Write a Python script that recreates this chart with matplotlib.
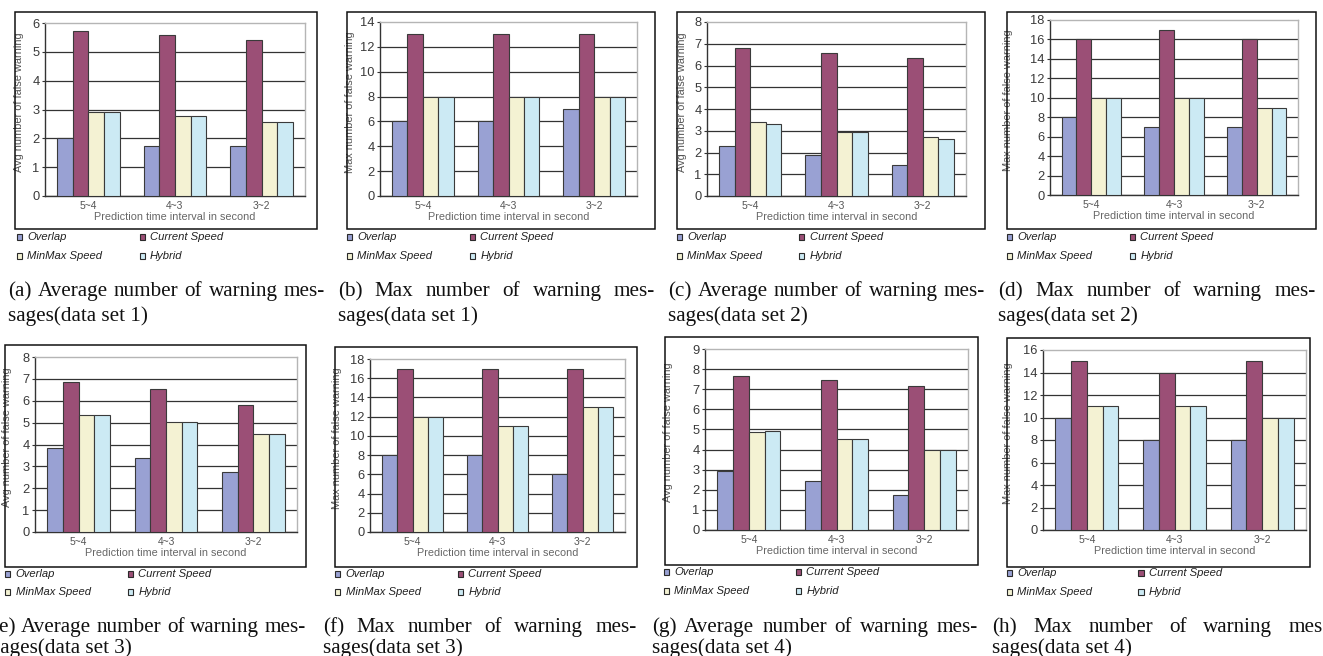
import matplotlib
matplotlib.use("Agg")
import matplotlib.pyplot as plt
from matplotlib.patches import Rectangle
import numpy as np

# ---------------- data ----------------
categories = ["5~4", "4~3", "3~2"]
series_names = ["Overlap", "Current Speed", "MinMax Speed", "Hybrid"]

avg_label = "Avg number of false warning"
max_label = "Max number of false warning"

# (a) data set 1, average
a_overlap = [2.0, 1.75, 1.75]
a_current = [5.72, 5.6, 5.4]
a_minmax = [2.9, 2.76, 2.55]
a_hybrid = [2.9, 2.76, 2.55]
# (b) data set 1, max
b_overlap = [6, 6, 7]
b_current = [13, 13, 13]
b_minmax = [8, 8, 8]
b_hybrid = [8, 8, 8]
# (c) data set 2, average
c_overlap = [2.31, 1.88, 1.42]
c_current = [6.79, 6.57, 6.35]
c_minmax = [3.41, 2.92, 2.72]
c_hybrid = [3.29, 2.92, 2.6]
# (d) data set 2, max
d_overlap = [8, 7, 7]
d_current = [16, 17, 16]
d_minmax = [10, 10, 9]
d_hybrid = [10, 10, 9]
# (e) data set 3, average
e_overlap = [3.83, 3.40, 2.73]
e_current = [6.85, 6.52, 5.79]
e_minmax = [5.33, 5.05, 4.49]
e_hybrid = [5.33, 5.05, 4.49]
# (f) data set 3, max
f_overlap = [8, 8, 6]
f_current = [17, 17, 17]
f_minmax = [12, 11, 13]
f_hybrid = [12, 11, 13]
# (g) data set 4, average
g_overlap = [2.93, 2.43, 1.74]
g_current = [7.67, 7.47, 7.14]
g_minmax = [4.87, 4.52, 3.97]
g_hybrid = [4.92, 4.52, 3.97]
# (h) data set 4, max
h_overlap = [10, 8, 8]
h_current = [15, 14, 15]
h_minmax = [11, 11, 10]
h_hybrid = [11, 11, 10]

captions1 = [
    "(a) Average number of warning mes-",
    "(b) Max number of warning mes-",
    "(c) Average number of warning mes-",
    "(d) Max number of warning mes-",
    "(e) Average number of warning mes-",
    "(f) Max number of warning mes-",
    "(g) Average number of warning mes-",
    "(h) Max number of warning mes-",
]
captions2 = [
    "sages(data set 1)", "sages(data set 1)",
    "sages(data set 2)", "sages(data set 2)",
    "sages(data set 3)", "sages(data set 3)",
    "sages(data set 4)", "sages(data set 4)",
]

# ---------------- style ----------------
colors = ["#99a1d3", "#9b4f76", "#f4f2d3", "#cceaf4"]
edge = "#3a3a3a"
W, H = 1323, 656

fig = plt.figure(figsize=(W / 100, H / 100), dpi=100)
fig.patch.set_facecolor("white")


def fx(x):
    return x / W


def fy(y):
    return 1 - y / H


# layout (pixels): box, axes, ylabel x, legend (col1 x, col2 x, row1 y, row2 y), caption (x0, x1, base1, base2)
panels = [
    dict(vals=(a_overlap, a_current, a_minmax, a_hybrid), ymax=6, step=1, ylabel=avg_label,
         box=(15, 12, 317, 229), ax=(45, 23, 305, 196), ylx=24,
         leg=(16.5, 139.5, 237, 256), cap=(8, 325, 296, 321)),
    dict(vals=(b_overlap, b_current, b_minmax, b_hybrid), ymax=14, step=2, ylabel=max_label,
         box=(347, 12, 655, 229), ax=(380, 22, 637, 196), ylx=355,
         leg=(346.7, 470, 237, 256), cap=(338, 655, 296, 321)),
    dict(vals=(c_overlap, c_current, c_minmax, c_hybrid), ymax=8, step=1, ylabel=avg_label,
         box=(677, 12, 985, 229), ax=(707, 22, 966, 196), ylx=687,
         leg=(676.7, 799.3, 237, 256), cap=(668, 985, 296, 321)),
    dict(vals=(d_overlap, d_current, d_minmax, d_hybrid), ymax=18, step=2, ylabel=max_label,
         box=(1007, 12, 1316, 229), ax=(1050, 20, 1298, 195), ylx=1013,
         leg=(1006.7, 1130, 237, 256), cap=(998, 1316, 296, 321)),
    dict(vals=(e_overlap, e_current, e_minmax, e_hybrid), ymax=8, step=1, ylabel=avg_label,
         box=(5, 345, 306, 567), ax=(35, 357, 297, 532), ylx=12,
         leg=(5, 127.7, 574, 592), cap=(-8, 306, 632, 653)),
    dict(vals=(f_overlap, f_current, f_minmax, f_hybrid), ymax=18, step=2, ylabel=max_label,
         box=(335, 347, 637, 567), ax=(370, 359, 625, 532), ylx=342,
         leg=(335, 457.7, 574, 592), cap=(323, 637, 632, 653)),
    dict(vals=(g_overlap, g_current, g_minmax, g_hybrid), ymax=9, step=1, ylabel=avg_label,
         box=(665, 337, 978, 565), ax=(705, 349, 968, 530), ylx=673,
         leg=(664, 796, 572, 591), cap=(652, 978, 632, 653)),
    dict(vals=(h_overlap, h_current, h_minmax, h_hybrid), ymax=16, step=2, ylabel=max_label,
         box=(1007, 338, 1310, 567), ax=(1043, 350, 1306, 530), ylx=1013,
         leg=(1006.7, 1138.3, 573, 592), cap=(992, 1330, 632, 653)),
]

renderer = fig.canvas.get_renderer()
cap_fs = 15.2


def justify_line(text, x0, x1, ybase):
    words = text.split(" ")
    objs = [fig.text(0, 0, w, fontsize=cap_fs, family="Liberation Serif",
                     va="baseline", ha="left", color="#111111") for w in words]
    widths = [o.get_window_extent(renderer).width for o in objs]
    gap = (x1 - x0 - sum(widths)) / (len(words) - 1)
    gap = max(gap, 4.0)
    x = x0
    for o, wd in zip(objs, widths):
        o.set_position((fx(x), fy(ybase)))
        x += wd + gap


x = np.arange(len(categories))
bw = 0.18

for i, p in enumerate(panels):
    bl, bt, br, bb = p["box"]
    fig.add_artist(Rectangle((fx(bl), fy(bb)), (br - bl) / W, (bb - bt) / H,
                             transform=fig.transFigure, facecolor="none",
                             edgecolor="#111111", linewidth=1.1))
    al, at, ar, ab = p["ax"]
    ax = fig.add_axes([fx(al), fy(ab), (ar - al) / W, (ab - at) / H])
    for k, vals in enumerate(p["vals"]):
        ax.bar(x + (k - 1.5) * bw, vals, bw, color=colors[k], edgecolor=edge,
               linewidth=0.8, zorder=3, label=series_names[k])
    ax.set_xlim(-0.5, len(categories) - 0.5)
    ax.set_ylim(0, p["ymax"])
    ticks = np.arange(0, p["ymax"] + 0.001, p["step"])
    ax.set_yticks(ticks)
    ax.set_yticklabels([f"{int(t)}" for t in ticks])
    ax.set_xticks(x)
    ax.set_xticklabels(categories)
    ax.set_axisbelow(True)
    ax.yaxis.grid(True, color="#333333", linewidth=0.9)
    gl = ax.get_ygridlines()
    gl[-1].set_visible(False)
    for s in ("left", "bottom"):
        ax.spines[s].set_color("#333333")
        ax.spines[s].set_linewidth(1.0)
    for s in ("top", "right"):
        ax.spines[s].set_color("#b5b5b5")
        ax.spines[s].set_linewidth(1.0)
    ax.tick_params(axis="y", direction="out", length=2.5, width=0.8, color="#333333",
                   pad=1.5, labelsize=9.3, labelcolor="#3a3a3a")
    ax.tick_params(axis="x", length=0, pad=3.5, labelsize=7.4, labelcolor="#555555")
    for t in ax.get_xticklabels() + ax.get_yticklabels():
        t.set_family("Liberation Sans")
    ax.set_xlabel("Prediction time interval in second", fontsize=7.8, color="#666666",
                  family="Liberation Sans", labelpad=1)
    ax.set_ylabel(p["ylabel"], fontsize=7.9, color="#555555", family="Liberation Sans")
    ax.yaxis.set_label_coords((p["ylx"] - al) / (ar - al), 0.54)

    # legend (2 x 2) below the box
    c1, c2, r1, r2 = p["leg"]
    spots = [(c1, r1), (c2, r1), (c1, r2), (c2, r2)]
    for k, (mx, my) in enumerate(spots):
        sq = 5.2
        fig.add_artist(Rectangle((fx(mx), fy(my + sq / 2)), sq / W, sq / H,
                                 transform=fig.transFigure, facecolor=colors[k],
                                 edgecolor="#2a2a2a", linewidth=0.8))
        fig.text(fx(mx + 10.5), fy(my), series_names[k], fontsize=8.1, style="italic",
                 family="Liberation Sans", color="#222222", va="center", ha="left")

    # caption
    x0, x1, y1, y2 = p["cap"]
    justify_line(captions1[i], x0, x1, y1)
    fig.text(fx(x0), fy(y2), captions2[i], fontsize=cap_fs, family="Liberation Serif",
             va="baseline", ha="left", color="#111111")

fig.savefig("out.png", dpi=100)
